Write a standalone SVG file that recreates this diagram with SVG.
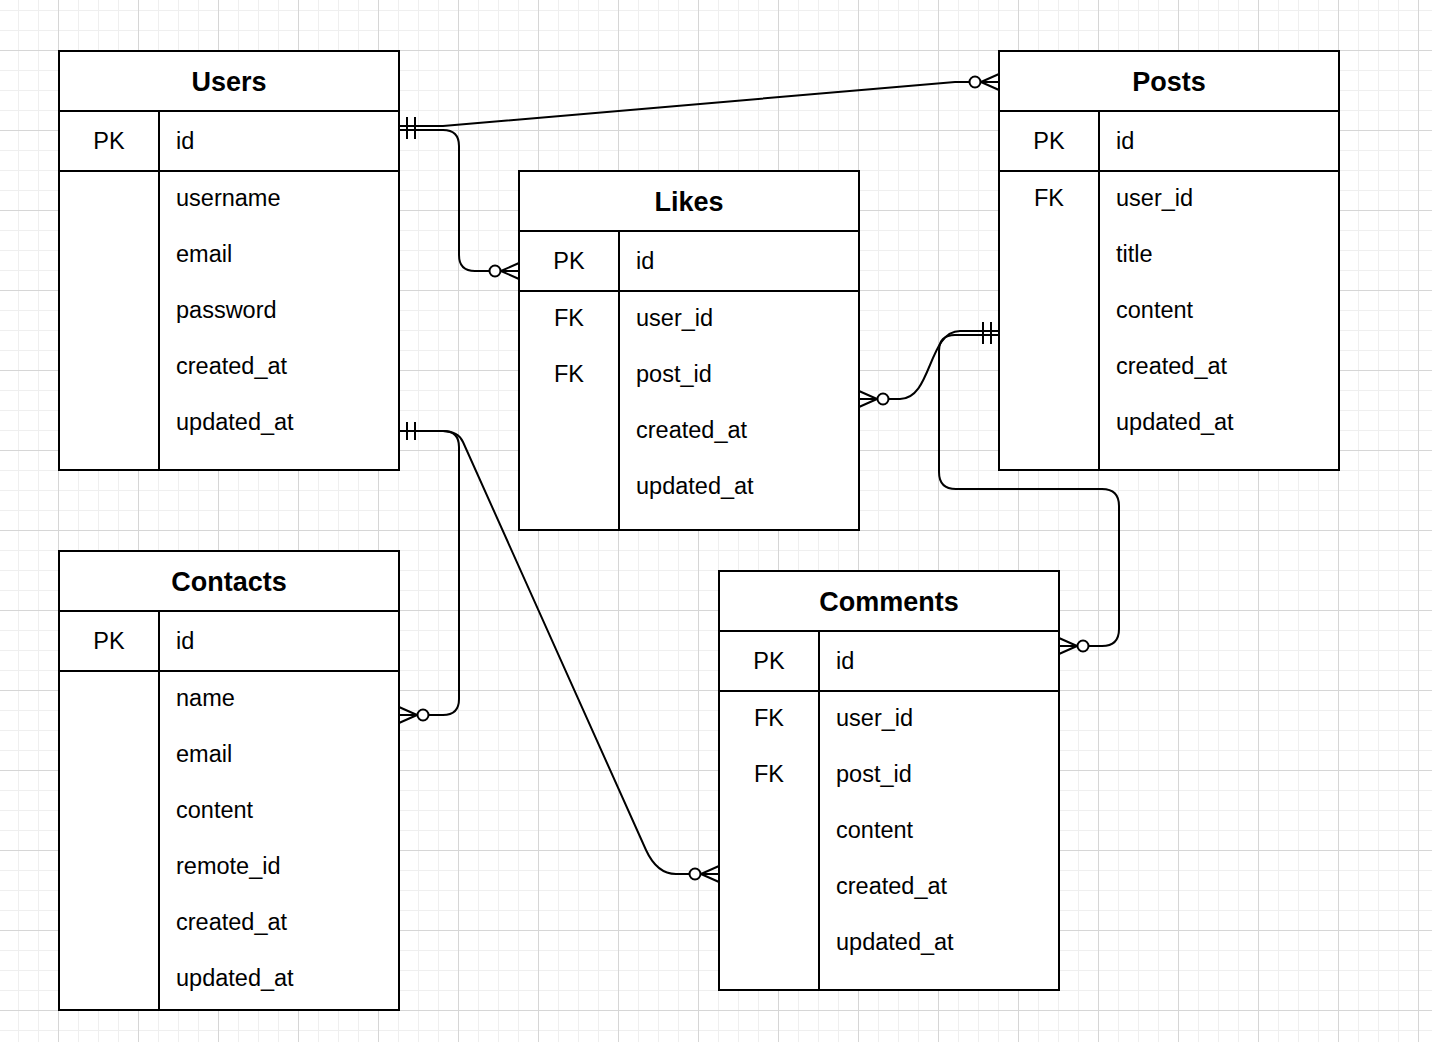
<svg xmlns="http://www.w3.org/2000/svg" width="1432" height="1042" viewBox="0 0 1432 1042">
<style>
.tb{fill:#fff;stroke:#000;stroke-width:2}
.ln{stroke:#000;stroke-width:2;fill:none}
.ttl{font-family:"Liberation Sans",Arial,sans-serif;font-weight:bold;font-size:27px;text-anchor:middle;fill:#000}
.k{font-family:"Liberation Sans",Arial,sans-serif;font-size:23.5px;text-anchor:middle;fill:#000}
.f{font-family:"Liberation Sans",Arial,sans-serif;font-size:23.5px;fill:#000}
.cn{stroke:#000;stroke-width:2;fill:none}
.mk{stroke:#000;stroke-width:2;fill:#fff}
</style>
<defs>
<pattern id="minor" patternUnits="userSpaceOnUse" x="18" y="10" width="20" height="20">
<path d="M0.5,0V20M0,0.5H20" stroke="#efefef" stroke-width="1" fill="none"/>
</pattern>
<pattern id="major" patternUnits="userSpaceOnUse" x="58" y="50" width="80" height="80">
<path d="M0.5,0V80M0,0.5H80" stroke="#d6d6d6" stroke-width="1" fill="none"/>
</pattern>
<g id="one">
<path class="cn" d="M8,-9V9M16,-9V9"/>
</g>
<g id="many0">
<path class="cn" d="M0,-8L18,0M0,8L18,0M0,0H18"/>
<circle class="mk" cx="24" cy="0" r="5.5"/>
</g>
</defs>
<rect width="1432" height="1042" fill="#fff"/>
<rect width="1432" height="1042" fill="url(#minor)"/>
<rect width="1432" height="1042" fill="url(#major)"/>

<g id="connectors">
<path class="cn" d="M399,126 L443,126 L955,82 L999,82"/>
<path class="cn" d="M399,130 L443,130 Q459,130 459,146 L459,255 Q459,271 475,271 L519,271"/>
<path class="cn" d="M859,399 L900,399 C932,399 928,331 960,331 L999,331"/>
<path class="cn" d="M999,335 L955,335 Q939,335 939,351 L939,472 Q939,489 956,489 L1102,489 Q1119,489 1119,506 L1119,629 Q1119,646 1102,646 L1059,646"/>
<path class="cn" d="M399,431 L443,431 Q459,431 459,447 L459,699 Q459,715 443,715 L399,715"/>
<path class="cn" d="M399,431 L443,431 Q458,431 463,442 L646,850 Q657,874 676,874 L719,874"/>
<use href="#one" transform="translate(399,126)"/>
<use href="#one" transform="translate(399,130)"/>
<use href="#one" transform="translate(399,431)"/>
<use href="#one" transform="translate(999,331) scale(-1,1)"/>
<use href="#one" transform="translate(999,335) scale(-1,1)"/>
<use href="#many0" transform="translate(999,82) scale(-1,1)"/>
<use href="#many0" transform="translate(519,271) scale(-1,1)"/>
<use href="#many0" transform="translate(859,399)"/>
<use href="#many0" transform="translate(1059,646)"/>
<use href="#many0" transform="translate(399,715)"/>
<use href="#many0" transform="translate(719,874) scale(-1,1)"/>
</g>

<g id="users">
<rect class="tb" x="59" y="51" width="340" height="419"/>
<path class="ln" d="M59,111H399M59,171H399M159,111V470"/>
<text class="ttl" x="229" y="91">Users</text>
<text class="k" x="109" y="149">PK</text>
<text class="f" x="176" y="149">id</text>
<text class="f" x="176" y="206">username</text>
<text class="f" x="176" y="262">email</text>
<text class="f" x="176" y="318">password</text>
<text class="f" x="176" y="374">created_at</text>
<text class="f" x="176" y="430">updated_at</text>
</g>

<g id="posts">
<rect class="tb" x="999" y="51" width="340" height="419"/>
<path class="ln" d="M999,111H1339M999,171H1339M1099,111V470"/>
<text class="ttl" x="1169" y="91">Posts</text>
<text class="k" x="1049" y="149">PK</text>
<text class="f" x="1116" y="149">id</text>
<text class="k" x="1049" y="206">FK</text>
<text class="f" x="1116" y="206">user_id</text>
<text class="f" x="1116" y="262">title</text>
<text class="f" x="1116" y="318">content</text>
<text class="f" x="1116" y="374">created_at</text>
<text class="f" x="1116" y="430">updated_at</text>
</g>

<g id="likes">
<rect class="tb" x="519" y="171" width="340" height="359"/>
<path class="ln" d="M519,231H859M519,291H859M619,231V530"/>
<text class="ttl" x="689" y="211">Likes</text>
<text class="k" x="569" y="269">PK</text>
<text class="f" x="636" y="269">id</text>
<text class="k" x="569" y="326">FK</text>
<text class="f" x="636" y="326">user_id</text>
<text class="k" x="569" y="382">FK</text>
<text class="f" x="636" y="382">post_id</text>
<text class="f" x="636" y="438">created_at</text>
<text class="f" x="636" y="494">updated_at</text>
</g>

<g id="contacts">
<rect class="tb" x="59" y="551" width="340" height="459"/>
<path class="ln" d="M59,611H399M59,671H399M159,611V1010"/>
<text class="ttl" x="229" y="591">Contacts</text>
<text class="k" x="109" y="649">PK</text>
<text class="f" x="176" y="649">id</text>
<text class="f" x="176" y="706">name</text>
<text class="f" x="176" y="762">email</text>
<text class="f" x="176" y="818">content</text>
<text class="f" x="176" y="874">remote_id</text>
<text class="f" x="176" y="930">created_at</text>
<text class="f" x="176" y="986">updated_at</text>
</g>

<g id="comments">
<rect class="tb" x="719" y="571" width="340" height="419"/>
<path class="ln" d="M719,631H1059M719,691H1059M819,631V990"/>
<text class="ttl" x="889" y="611">Comments</text>
<text class="k" x="769" y="669">PK</text>
<text class="f" x="836" y="669">id</text>
<text class="k" x="769" y="726">FK</text>
<text class="f" x="836" y="726">user_id</text>
<text class="k" x="769" y="782">FK</text>
<text class="f" x="836" y="782">post_id</text>
<text class="f" x="836" y="838">content</text>
<text class="f" x="836" y="894">created_at</text>
<text class="f" x="836" y="950">updated_at</text>
</g>
</svg>
